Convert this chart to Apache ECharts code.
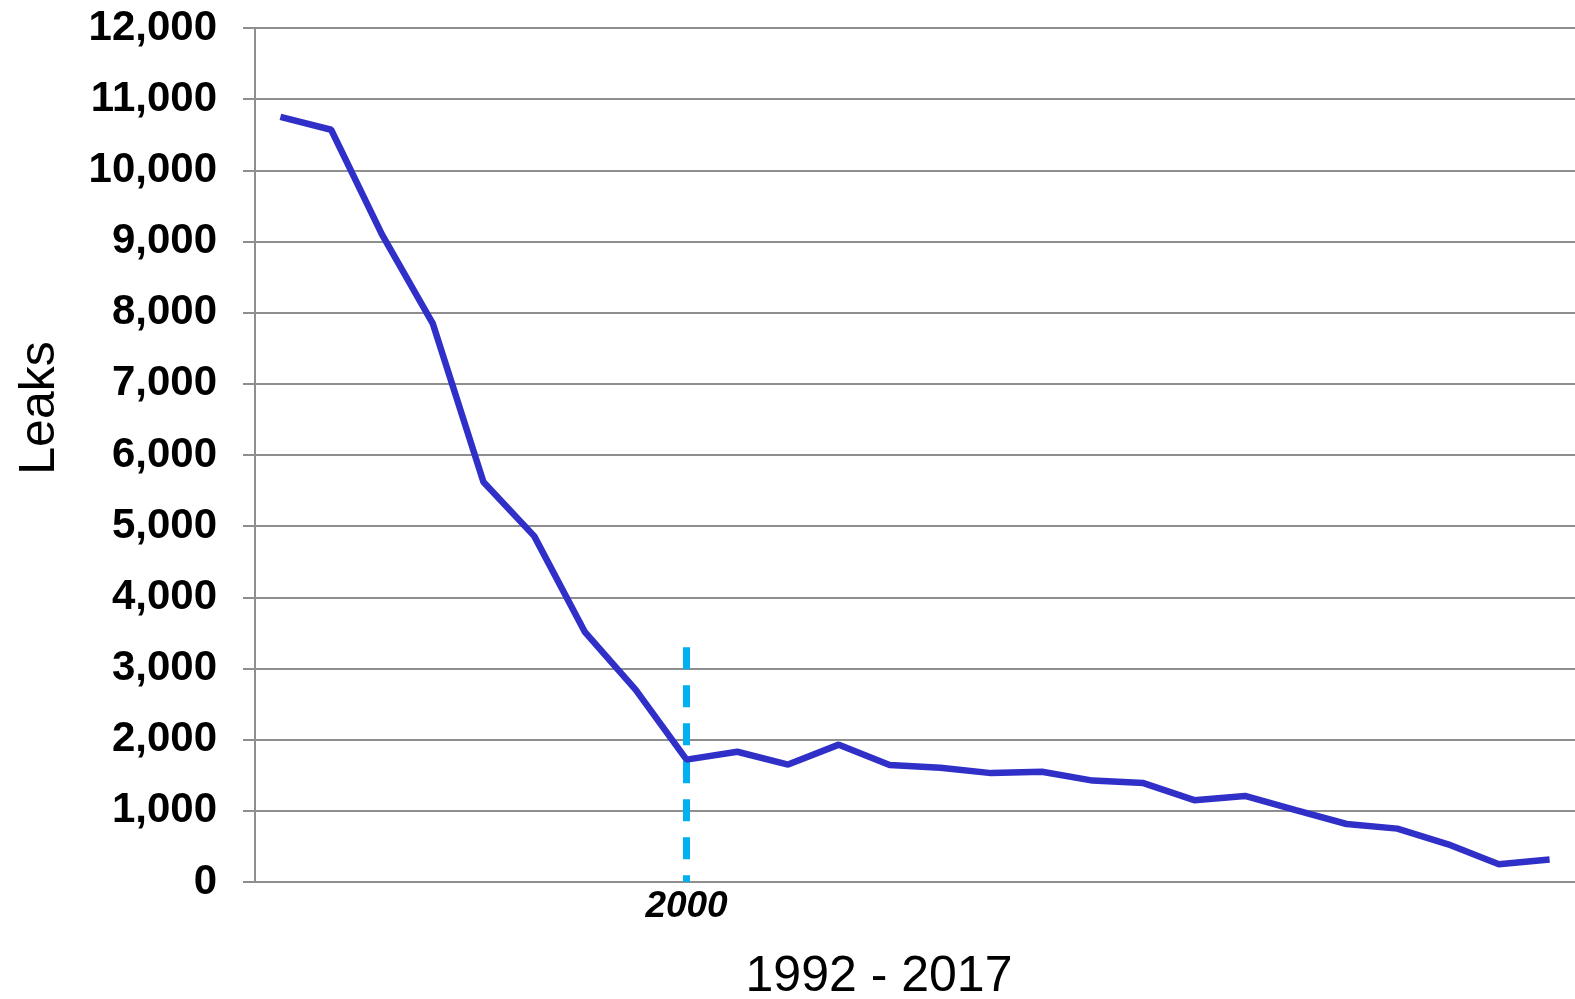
<!DOCTYPE html>
<html>
<head>
<meta charset="utf-8">
<script src="https://cdn.jsdelivr.net/npm/echarts@6/dist/echarts.min.js"></script>
<style>
  html, body { margin: 0; padding: 0; background: #fff; }
  #chart { width: 1575px; height: 999px; }
</style>
</head>
<body>
<div id="chart"></div>
<script>
const years = ['1992', '1993', '1994', '1995', '1996', '1997', '1998', '1999', '2000', '2001',
  '2002', '2003', '2004', '2005', '2006', '2007', '2008', '2009', '2010', '2011',
  '2012', '2013', '2014', '2015', '2016', '2017']
const leaks = [10750, 10570, 9100, 7850, 5620, 4860, 3510, 2700, 1720, 1830,
  1650, 1930, 1645, 1605, 1530, 1550, 1425, 1390, 1150, 1210,
  1010, 815, 750, 530, 250, 315]
const markYear = '2000'
const markTop = 3300
const markBottom = 0

const gray = '#8e8e8e'
const chart = echarts.init(document.getElementById('chart'))

chart.setOption({
  backgroundColor: '#fff',
  animation: false,
  grid: { left: 255, right: 0, top: 28, bottom: 117, containLabel: false, outerBoundsMode: 'none' },
  xAxis: {
    type: 'category',
    data: years,
    name: '1992 - 2017',
    nameLocation: 'middle',
    nameGap: 70,
    nameTextStyle: { fontFamily: 'Liberation Sans', fontSize: 50, color: '#000', padding: [0, 72, 0, 0] },
    axisLine: { lineStyle: { color: gray, width: 2 } },
    axisTick: { show: false },
    axisLabel: {
      interval: 0,
      margin: 6,
      formatter: (v) => (v === markYear ? v : ''),
      fontFamily: 'Liberation Sans',
      fontSize: 37,
      fontWeight: 'bold',
      fontStyle: 'italic',
      color: '#000'
    },
    splitLine: { show: false }
  },
  yAxis: {
    type: 'value',
    min: 0,
    max: 12000,
    interval: 1000,
    name: 'Leaks',
    nameLocation: 'middle',
    nameGap: 190,
    nameTextStyle: { fontFamily: 'Liberation Sans', fontSize: 50, color: '#000', padding: [0, 0, 0, 94] },
    axisLine: { show: true, lineStyle: { color: gray, width: 2 } },
    axisTick: { show: true, length: 12, lineStyle: { color: gray, width: 2 } },
    axisLabel: {
      margin: 38,
      formatter: (v) => v.toLocaleString('en-US'),
      fontFamily: 'Liberation Sans',
      fontSize: 42,
      fontWeight: 'bold',
      color: '#000'
    },
    splitLine: { lineStyle: { color: gray, width: 2 } }
  },
  series: [
    {
      type: 'line',
      data: leaks,
      showSymbol: false,
      clip: false,
      itemStyle: { color: '#3030c8' },
      lineStyle: { color: '#3030c8', width: 6.5 },
      z: 3,
      markLine: {
        silent: true,
        symbol: ['none', 'none'],
        label: { show: false },
        lineStyle: { color: '#00b0f0', width: 7, type: [22, 16] },
        emphasis: { lineStyle: { width: 7 } },
        z: 2,
        data: [[
          { xAxis: markYear, yAxis: markTop },
          { xAxis: markYear, yAxis: markBottom }
        ]]
      }
    }
  ]
})

window.addEventListener('resize', () => chart.resize())
</script>
</body>
</html>
